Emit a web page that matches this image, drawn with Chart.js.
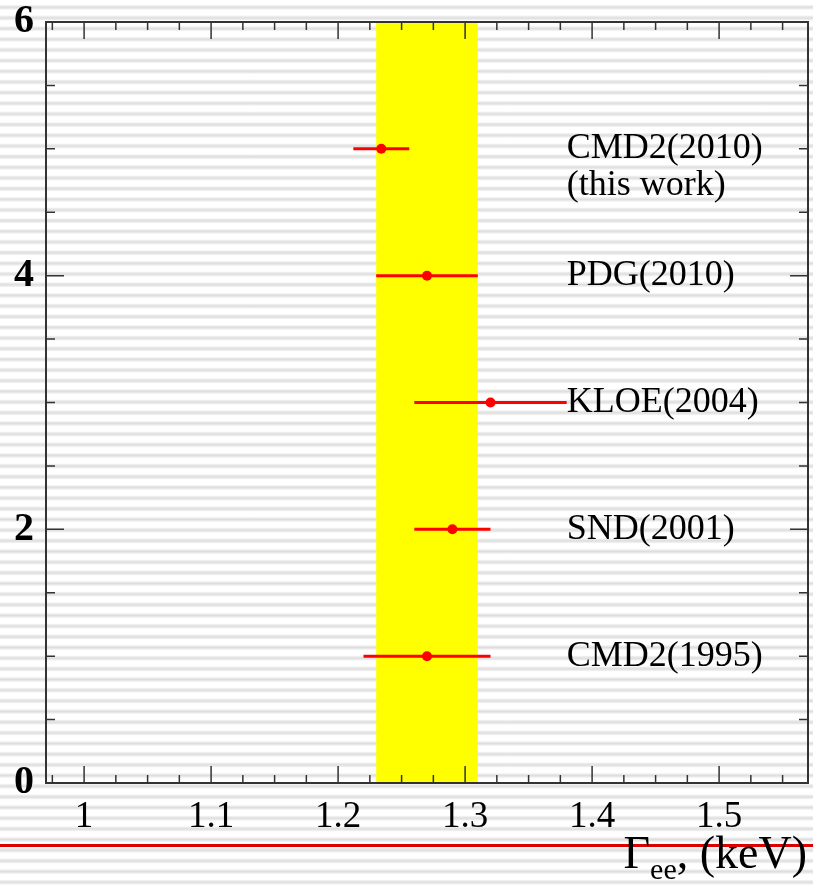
<!DOCTYPE html>
<html>
<head>
<meta charset="utf-8">
<script src="https://cdn.jsdelivr.net/npm/chart.js@4.4.1/dist/chart.umd.min.js"></script>
<style>
    html, body {
        margin: 0;
        padding: 0;
    }
    body {
        width: 813px;
        height: 886px;
        overflow: hidden;
        position: relative;
        background: repeating-linear-gradient(to bottom,
            #ffffff 0px, #ffffff 4.5px, #ececec 5.8px, #dedede 7.3px, #ececec 8.8px, #ffffff 10.1px, #ffffff 10.67px);
    }
    #redLine {
        position: absolute;
        left: 0;
        top: 844px;
        width: 813px;
        height: 3px;
        background: #dd0000;
    }
    #wrap {
        position: absolute;
        left: 0;
        top: 0;
        width: 813px;
        height: 886px;
    }
</style>
</head>
<body>
<div id="redLine"></div>
<div id="wrap"><canvas id="chart" width="813" height="886"></canvas></div>
<script>
// measurements of Gamma_ee (keV)
const experiments = [['CMD2(1995)'], ['SND(2001)'], ['KLOE(2004)'], ['PDG(2010)'], ['CMD2(2010)', '(this work)']];
const rowY = [1, 2, 3, 4, 5];
const gammaEE = [1.27, 1.29, 1.32, 1.27, 1.234];
const errLow = [1.22, 1.26, 1.26, 1.23, 1.212];
const errHigh = [1.32, 1.32, 1.38, 1.31, 1.256];
const bandRange = [1.23, 1.31];

const xTicks = [1, 1.1, 1.2, 1.3, 1.4, 1.5];
const yTicks = [0, 2, 4, 6];

const serif = '"Liberation Serif", "Times New Roman", serif';
const frameColor = '#333333';

const points = gammaEE.map((v, i) => ({ x: v, y: rowY[i] }));

const bandPlugin = {
    id: 'band',
    beforeDatasetsDraw(chart) {
        const { ctx, chartArea, scales } = chart;
        const x1 = scales.x.getPixelForValue(bandRange[0]);
        const x2 = scales.x.getPixelForValue(bandRange[1]);
        ctx.save();
        ctx.fillStyle = '#ffff00';
        ctx.fillRect(x1, chartArea.top, x2 - x1, chartArea.bottom - chartArea.top);

        // horizontal error bars
        ctx.strokeStyle = '#ff0000';
        ctx.lineWidth = 3;
        errLow.forEach((lo, i) => {
            const y = scales.y.getPixelForValue(rowY[i]);
            ctx.beginPath();
            ctx.moveTo(scales.x.getPixelForValue(lo), y);
            ctx.lineTo(scales.x.getPixelForValue(errHigh[i]), y);
            ctx.stroke();
        });
        ctx.restore();
    }
};

const framePlugin = {
    id: 'frame',
    afterDraw(chart) {
        const { ctx, chartArea, scales } = chart;
        const { left, right, top, bottom } = chartArea;
        ctx.save();

        // ticks drawn inside the frame, on all four sides
        ctx.strokeStyle = frameColor;
        ctx.lineWidth = 1.5;
        ctx.beginPath();
        for (let v = 0.975; v < 1.57; v += 0.025) {
            const px = scales.x.getPixelForValue(v);
            const major = Math.abs(Math.round(v * 10) - v * 10) < 0.001;
            const len = major ? 17 : 8;
            ctx.moveTo(px, bottom);
            ctx.lineTo(px, bottom - len);
            ctx.moveTo(px, top);
            ctx.lineTo(px, top + len);
        }
        for (let v = 0; v <= 6; v += 0.5) {
            const py = scales.y.getPixelForValue(v);
            const len = (v % 2 === 0) ? 18 : 9;
            ctx.moveTo(left, py);
            ctx.lineTo(left + len, py);
            ctx.moveTo(right, py);
            ctx.lineTo(right - len, py);
        }
        ctx.stroke();

        ctx.lineWidth = 2;
        ctx.strokeRect(left, top, right - left, bottom - top);

        // experiment names
        ctx.fillStyle = '#000000';
        ctx.font = '36px ' + serif;
        ctx.textAlign = 'left';
        ctx.textBaseline = 'middle';
        const tx = scales.x.getPixelForValue(1.38);
        experiments.forEach((lines, i) => {
            const y = scales.y.getPixelForValue(rowY[i]);
            lines.forEach((s, k) => ctx.fillText(s, tx, y + k * 37));
        });

        // axis title with subscript
        ctx.textBaseline = 'alphabetic';
        const big = '46px ' + serif, small = '30px ' + serif;
        const base = 868;
        ctx.font = big;
        const wG = ctx.measureText('\u0393').width;
        const wRest = ctx.measureText(', (keV)').width;
        ctx.font = small;
        const wSub = ctx.measureText('ee').width;
        let x = 807 - (wG + wSub + wRest);
        ctx.font = big;
        ctx.fillText('\u0393', x, base);
        x += wG;
        ctx.font = small;
        ctx.fillText('ee', x, base + 11);
        x += wSub;
        ctx.font = big;
        ctx.fillText(', (keV)', x, base);
        ctx.restore();
    }
};

new Chart(document.getElementById('chart'), {
    type: 'scatter',
    data: {
        datasets: [{
            data: points,
            pointRadius: 5,
            pointHoverRadius: 5,
            backgroundColor: '#ff0000',
            borderWidth: 0
        }]
    },
    options: {
        responsive: false,
        animation: false,
        layout: { padding: { top: 22, right: 5, left: 0, bottom: 0 } },
        plugins: {
            legend: { display: false },
            tooltip: { enabled: false }
        },
        scales: {
            x: {
                type: 'linear',
                min: 0.97,
                max: 1.57,
                afterBuildTicks: (scale) => { scale.ticks = xTicks.map(v => ({ value: v })); },
                afterFit: (scale) => {
                    scale.height = 103;
                    scale.paddingLeft = 0;
                    scale.paddingRight = 0;
                },
                grid: { display: false, drawTicks: false },
                border: { display: false },
                ticks: {
                    padding: 12,
                    color: '#000000',
                    font: { family: serif, size: 37 },
                    callback: (v) => String(v)
                }
            },
            y: {
                type: 'linear',
                min: 0,
                max: 6,
                afterBuildTicks: (scale) => { scale.ticks = yTicks.map(v => ({ value: v })); },
                afterFit: (scale) => {
                    scale.width = 46;
                    scale.paddingTop = 0;
                    scale.paddingBottom = 0;
                },
                grid: { display: false, drawTicks: false },
                border: { display: false },
                ticks: {
                    padding: 12,
                    color: '#000000',
                    font: { family: serif, size: 40, weight: 'bold' },
                    callback: (v) => String(v)
                }
            }
        }
    },
    plugins: [bandPlugin, framePlugin]
});
</script>
</body>
</html>
